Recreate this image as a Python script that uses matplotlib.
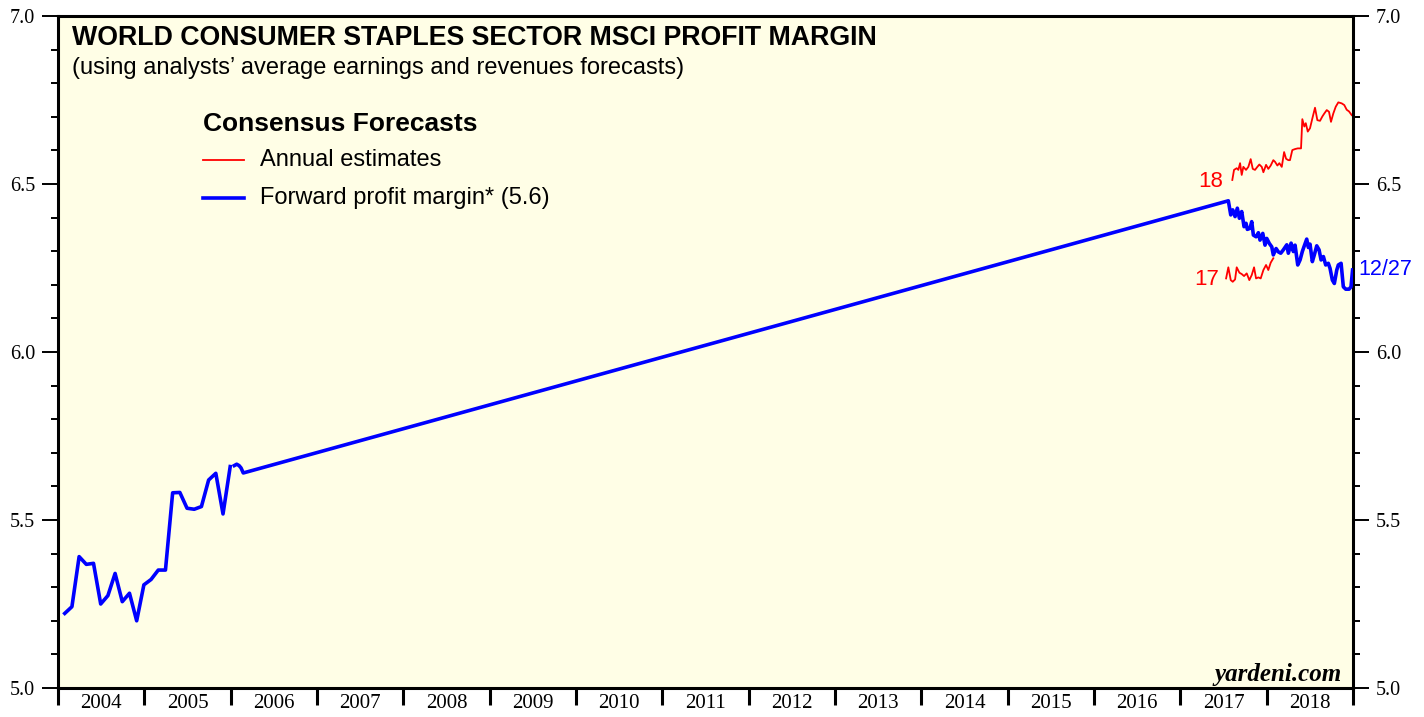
import numpy as np
import matplotlib
matplotlib.use("Agg")
import matplotlib.pyplot as plt
from matplotlib.ticker import MultipleLocator, FixedLocator, NullFormatter, FixedFormatter

# ---------------- data ----------------
# Forward profit margin: monthly 2004-2005
blue_early_t = [2004.078 + i / 12 for i in range(24)]
blue_early_v = [5.222, 5.242, 5.391, 5.368, 5.371, 5.250, 5.275, 5.341, 5.257, 5.282,
                5.200, 5.307, 5.323, 5.351, 5.351, 5.581, 5.582, 5.535, 5.532, 5.540,
                5.619, 5.639, 5.518, 5.659]

# Forward profit margin: weekly, early 2006 then resumes mid 2017
blue_late_t = [2006.042, 2006.070, 2006.097, 2006.120, 2006.146,
               2017.556, 2017.584, 2017.607, 2017.634, 2017.660, 2017.684, 2017.711, 2017.738,
               2017.761, 2017.776, 2017.807, 2017.827, 2017.846, 2017.877, 2017.904, 2017.923,
               2017.955, 2017.981, 2018.001, 2018.031, 2018.059, 2018.077, 2018.109, 2018.135,
               2018.163, 2018.193, 2018.233, 2018.251, 2018.283, 2018.309, 2018.329, 2018.360,
               2018.387, 2018.413, 2018.436, 2018.464, 2018.483, 2018.502, 2018.529, 2018.552,
               2018.580, 2018.607, 2018.630, 2018.657, 2018.684, 2018.714, 2018.734, 2018.761,
               2018.784, 2018.812, 2018.830, 2018.862, 2018.888, 2018.916, 2018.954, 2018.977,
               2018.995]
blue_late_v = [5.662, 5.666, 5.662, 5.655, 5.640,
               6.450, 6.408, 6.423, 6.403, 6.428, 6.398, 6.418, 6.373,
               6.383, 6.365, 6.368, 6.388, 6.348, 6.343, 6.355, 6.333,
               6.353, 6.318, 6.338, 6.323, 6.313, 6.289, 6.308, 6.298,
               6.294, 6.304, 6.319, 6.294, 6.324, 6.299, 6.318, 6.259,
               6.274, 6.299, 6.316, 6.336, 6.311, 6.321, 6.269, 6.289,
               6.316, 6.304, 6.274, 6.284, 6.259, 6.264, 6.249, 6.214,
               6.204, 6.244, 6.259, 6.264, 6.194, 6.187, 6.187, 6.194,
               6.244]

# Annual estimate 2018
red18_t = [2017.602, 2017.622, 2017.653, 2017.672, 2017.692, 2017.711, 2017.730, 2017.761,
           2017.788, 2017.815, 2017.839, 2017.865, 2017.892, 2017.915, 2017.943, 2017.962,
           2017.993, 2018.019, 2018.047, 2018.077, 2018.097, 2018.124, 2018.147, 2018.175,
           2018.202, 2018.225, 2018.251, 2018.270, 2018.297, 2018.329, 2018.360, 2018.398,
           2018.413, 2018.436, 2018.453, 2018.476, 2018.502, 2018.529, 2018.560, 2018.587,
           2018.618, 2018.645, 2018.668, 2018.696, 2018.722, 2018.745, 2018.772, 2018.800,
           2018.830, 2018.869, 2018.899, 2018.927, 2018.954, 2018.985]
red18_v = [6.512, 6.542, 6.547, 6.542, 6.562, 6.527, 6.551, 6.542,
           6.551, 6.574, 6.545, 6.542, 6.551, 6.558, 6.551, 6.535,
           6.557, 6.545, 6.555, 6.571, 6.566, 6.555, 6.562, 6.551,
           6.595, 6.575, 6.571, 6.571, 6.601, 6.604, 6.606, 6.606,
           6.693, 6.671, 6.681, 6.656, 6.666, 6.695, 6.727, 6.690,
           6.688, 6.701, 6.710, 6.720, 6.715, 6.685, 6.710, 6.730,
           6.743, 6.740, 6.735, 6.721, 6.716, 6.705]

# Annual estimate 2017
red17_t = [2017.530, 2017.556, 2017.584, 2017.607, 2017.634, 2017.653, 2017.684, 2017.711,
           2017.738, 2017.769, 2017.799, 2017.827, 2017.854, 2017.877, 2017.904, 2017.931,
           2017.962, 2017.993, 2018.019, 2018.047, 2018.077]
red17_v = [6.219, 6.252, 6.214, 6.209, 6.216, 6.252, 6.236, 6.232,
           6.226, 6.234, 6.214, 6.229, 6.252, 6.219, 6.222, 6.219,
           6.244, 6.259, 6.244, 6.266, 6.279]

years = list(range(2004, 2019))
year_labels = [str(y) for y in years]

# ---------------- figure ----------------
W, H = 1424, 717
fig = plt.figure(figsize=(W / 100, H / 100), dpi=100)
L, R, B, T = 58, 1353, 688, 16
ax = fig.add_axes([L / W, 1 - B / H, (R - L) / W, (B - T) / H])
ax.set_facecolor("#FFFEE6")

BLUE = "#0000FF"
RED = "#FF0000"

ax.plot(blue_early_t, blue_early_v, color=BLUE, lw=2.6, solid_joinstyle="round", zorder=3)
ax.plot(blue_late_t, blue_late_v, color=BLUE, lw=2.6, solid_joinstyle="round", zorder=3)
ax.plot(red18_t, red18_v, color=RED, lw=1.3, zorder=2)
ax.plot(red17_t, red17_v, color=RED, lw=1.3, zorder=2)

ax.set_xlim(2004, 2019)
ax.set_ylim(5.0, 7.0)

for s in ax.spines.values():
    s.set_linewidth(2.2)
    s.set_color("black")

serif = "Liberation Serif"
sans = "Liberation Sans"

# y axis
ax.yaxis.set_major_locator(MultipleLocator(0.5))
ax.yaxis.set_minor_locator(MultipleLocator(0.1))
ax.yaxis.set_major_formatter(matplotlib.ticker.FormatStrFormatter("%.1f"))
ax.tick_params(axis="y", which="major", direction="out", length=11.5, width=1.4,
               left=True, right=True, labelleft=True, labelright=True, pad=5,
               labelsize=14.5)
ax.tick_params(axis="y", which="minor", direction="out", length=5, width=1.4,
               left=True, right=True)

# x axis: ticks at year boundaries, labels centred within years
ax.xaxis.set_major_locator(FixedLocator(years + [2019]))
ax.xaxis.set_major_formatter(NullFormatter())
ax.xaxis.set_minor_locator(FixedLocator([y + 0.5 for y in years]))
ax.xaxis.set_minor_formatter(FixedFormatter(year_labels))
ax.tick_params(axis="x", which="major", direction="out", length=12, width=2.2)
ax.tick_params(axis="x", which="minor", length=0, pad=4.5, labelsize=15)

for lab in ax.xaxis.get_ticklabels(which="both") + ax.yaxis.get_ticklabels(which="both"):
    lab.set_fontfamily(serif)

# titles
ax.text(0.0108, 0.967, "WORLD CONSUMER STAPLES SECTOR MSCI PROFIT MARGIN",
        transform=ax.transAxes, ha="left", va="center", fontsize=19.3,
        fontweight="bold", family=sans)
ax.text(0.0108, 0.923, "(using analysts\u2019 average earnings and revenues forecasts)",
        transform=ax.transAxes, ha="left", va="center", fontsize=17, family=sans)

# legend
ax.text(0.112, 0.840, "Consensus Forecasts", transform=ax.transAxes, ha="left",
        va="center", fontsize=19, fontweight="bold", family=sans)
ax.plot([0.112, 0.144], [0.786, 0.786], transform=ax.transAxes, color=RED, lw=1.3)
ax.text(0.156, 0.786, "Annual estimates", transform=ax.transAxes, ha="left",
        va="center", fontsize=17, family=sans)
ax.plot([0.112, 0.144], [0.729, 0.729], transform=ax.transAxes, color=BLUE, lw=2.6)
ax.text(0.156, 0.729, "Forward profit margin* (5.6)", transform=ax.transAxes, ha="left",
        va="center", fontsize=17, family=sans)

# series labels
ax.text(2017.50, 6.507, "18", color=RED, ha="right", va="center", fontsize=16, family=sans)
ax.text(2017.45, 6.215, "17", color=RED, ha="right", va="center", fontsize=16, family=sans)
ax.text(2019.06, 6.245, "12/27", color=BLUE, ha="left", va="center", fontsize=15.5,
        family=sans, clip_on=False)

ax.text(0.9915, 0.020, "yardeni.com", transform=ax.transAxes, ha="right", va="center",
        fontsize=18, fontweight="bold", fontstyle="italic", family=serif)

fig.savefig("out.png", dpi=100, facecolor="white")
